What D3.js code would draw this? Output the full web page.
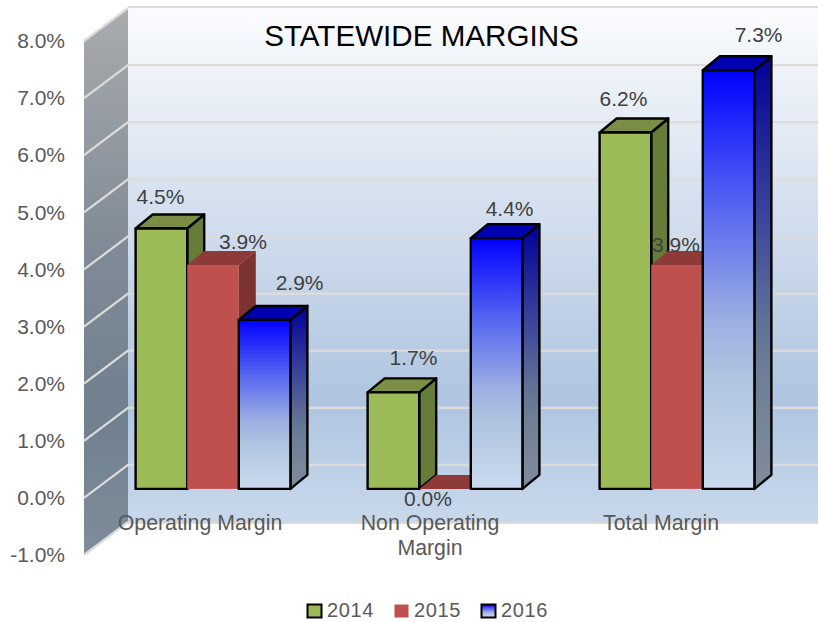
<!DOCTYPE html>
<html>
<head>
<meta charset="utf-8">
<script src="https://cdn.jsdelivr.net/npm/d3@7/dist/d3.min.js"></script>
<style>
html,body{margin:0;padding:0;background:#fff;overflow:hidden}
svg{display:block}
text{font-family:"Liberation Sans",Arial,sans-serif}
</style>
</head>
<body>
<svg id="c" width="818" height="622"></svg>
<script>
const categories = [["Operating Margin"], ["Non Operating", "Margin"], ["Total Margin"]];
const seriesNames = ["2014", "2015", "2016"];
const values2014 = [4.56, 1.69, 6.24];
const values2015 = [3.92, 0.00, 3.92];
const values2016 = [2.96, 4.39, 7.33];
const labels2014 = ["4.5%", "1.7%", "6.2%"];
const labels2015 = ["3.9%", "0.0%", "3.9%"];
const labels2016 = ["2.9%", "4.4%", "7.3%"];
const tickValues = [-1, 0, 1, 2, 3, 4, 5, 6, 7, 8];
const chartTitle = "STATEWIDE MARGINS";

// layout
const svg = d3.select("#c");
const W = 818;
const wallDX = 44, wallDY = 33;      // depth of the whole plot box
const backX = 128;
const frontX = backX - wallDX;
const yBack = d3.scaleLinear().domain([-1, 8]).range([522, 8]);
const yFront = d3.scaleLinear().domain([-1, 8]).range([522 + wallDY, 8 + wallDY]);
const barLift = 9;                   // bars stand this far behind the front plane
const y = v => yFront(v) - barLift;
const barDX = 17, barDY = 14;
const x0 = d3.scaleBand().domain(d3.range(categories.length)).range([97, 793]).paddingInner(0).paddingOuter(0);
const barW = 51.6;
const x1 = d3.scaleBand().domain(seriesNames).range([x0.bandwidth() / 2 - barW * 1.5, x0.bandwidth() / 2 + barW * 1.5]);

const defs = svg.append("defs");
function gradient(id, stops) {
  const g = defs.append("linearGradient").attr("id", id).attr("x1", 0).attr("y1", 0).attr("x2", 0).attr("y2", 1);
  stops.forEach(s => g.append("stop").attr("offset", s[0]).attr("stop-color", s[1]));
}
gradient("backWall", [[0, "#fbfcfe"], [0.76, "#afc5e0"], [1, "#c8d8eb"]]);
gradient("leftWall", [[0, "#a9abae"], [0.45, "#7f8a96"], [0.75, "#70808f"], [1, "#7f8d9a"]]);
gradient("blueFront", [[0, "#0000ff"], [0.3, "#4f5ff2"], [0.6, "#9dafe2"], [0.74, "#afc5e0"], [1, "#cbdaee"]]);
gradient("blueSide", [[0, "#000099"], [0.3, "#30389a"], [0.6, "#5f6f96"], [0.74, "#6f7f95"], [1, "#7f8d9c"]]);

const poly = pts => pts.map(p => p.join(",")).join(" ");

// back wall
svg.append("rect").attr("x", backX).attr("y", yBack(8)).attr("width", W - backX).attr("height", yBack(-1) - yBack(8))
  .attr("fill", "url(#backWall)");
svg.append("line").attr("x1", backX).attr("x2", W).attr("y1", yBack(8) - 1).attr("y2", yBack(8) - 1)
  .attr("stroke", "#dedcdb").attr("stroke-width", 2);
svg.append("line").attr("x1", backX).attr("x2", W).attr("y1", yBack(-1) + 1).attr("y2", yBack(-1) + 1)
  .attr("stroke", "#dedcdb").attr("stroke-width", 2);

// left wall
svg.append("polygon").attr("fill", "url(#leftWall)")
  .attr("points", poly([[frontX, yFront(8)], [backX, yBack(8)], [backX, yBack(-1)], [frontX, yFront(-1)]]));

// gridlines
const grid = svg.append("g");
tickValues.forEach(t => {
  grid.append("path").attr("fill", "none").attr("stroke", "#dedcdb").attr("stroke-width", 2.2)
    .attr("d", `M${frontX},${yFront(t)}L${backX},${yBack(t)}` + (t > -1 && t < 8 ? `L${W},${yBack(t)}` : ""));
});

// y axis labels
const yAxis = d3.axisLeft(yFront).tickValues(tickValues).tickSize(0).tickPadding(19)
  .tickFormat(d => d.toFixed(1) + "%");
const axG = svg.append("g").attr("transform", `translate(${frontX},0)`).call(yAxis);
axG.select(".domain").remove();
axG.selectAll("text").attr("font-size", 21).attr("fill", "#595959").attr("font-family", '"Liberation Sans",Arial,sans-serif');
axG.selectAll("text").attr("dy", "0.32em");

// bars
const series = [
  { name: "2014", values: values2014, labels: labels2014, front: "#9bbb59", top: "#7a8f45", side: "#667c39", stroke: "#000" },
  { name: "2015", values: values2015, labels: labels2015, front: "#c0504d", top: "#8e3a38", side: "#7b3230", stroke: "none" },
  { name: "2016", values: values2016, labels: labels2016, front: "url(#blueFront)", top: "#0000b0", side: "url(#blueSide)", stroke: "#000" }
];
const barsLayer = svg.append("g");
categories.forEach((c, ci) => {
  series.forEach(s => {
    const g = barsLayer.append("g").attr("stroke", s.stroke).attr("stroke-width", 2.4).attr("stroke-linejoin", "round");
    const l = x0(ci) + x1(s.name), r = l + x1.bandwidth();
    const t = y(s.values[ci]), b = y(0);
    g.append("polygon").attr("fill", s.side)
      .attr("points", poly([[r, t], [r + barDX, t - barDY], [r + barDX, b - barDY], [r, b]]));
    g.append("polygon").attr("fill", s.top)
      .attr("points", poly([[l, t], [l + barDX, t - barDY], [r + barDX, t - barDY], [r, t]]));
    if (s.values[ci] > 0) {
      g.append("rect").attr("x", l).attr("y", t).attr("width", r - l).attr("height", b - t).attr("fill", s.front);
    }
  });
});

// data labels, hand placed in the original: nudge from bar's front-top centre
const nudges = {
  "2014": [[-1, -32], [20, -35], [-2, -34]],
  "2015": [[30, -23], [-17, 10], [-1, -20]],
  "2016": [[35, -37], [13, -30], [30, -36]]
};
const labelLayer = svg.append("g");
categories.forEach((c, ci) => {
  series.forEach(s => {
    const cx = x0(ci) + x1(s.name) + x1.bandwidth() / 2;
    const n = nudges[s.name][ci];
    labelLayer.append("text").attr("x", cx + n[0]).attr("y", y(s.values[ci]) + n[1])
      .attr("text-anchor", "middle").attr("dy", "0.35em")
      .attr("font-size", 21).attr("fill", "#404040").text(s.labels[ci]);
  });
});

// category labels
const categoryShift = [-13, -15, -16];
categories.forEach((c, ci) => {
  const cx = x0(ci) + x0.bandwidth() / 2 + categoryShift[ci];
  c.forEach((line, li) => {
    svg.append("text").attr("x", cx).attr("y", 523 + li * 24.5).attr("dy", "0.35em")
      .attr("text-anchor", "middle").attr("font-size", 21.3).attr("fill", "#595959").text(line);
  });
});

// title
svg.append("text").attr("x", 421.5).attr("y", 36).attr("dy", "0.35em").attr("text-anchor", "middle")
  .attr("font-size", 29.6).attr("fill", "#000").text(chartTitle);

// legend
const legendX = d3.scaleOrdinal().domain(seriesNames).range([307, 394, 481]);
series.forEach(s => {
  const lx = legendX(s.name);
  svg.append("rect").attr("x", lx + 0.5).attr("y", 604.5).attr("width", 14).attr("height", 13)
    .attr("fill", s.front).attr("stroke", s.stroke).attr("stroke-width", 2);
  svg.append("text").attr("x", lx + 20).attr("y", 617.4)
    .attr("font-size", 20).attr("letter-spacing", 0.6).attr("fill", "#595959").text(s.name);
});
</script>
</body>
</html>
